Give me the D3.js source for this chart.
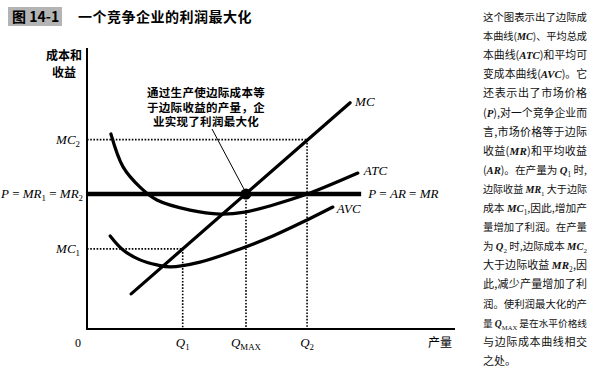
<!DOCTYPE html>
<html>
<head>
<meta charset="utf-8">
<script src="https://cdn.jsdelivr.net/npm/d3@7"></script>
<style>
  body { margin: 0; background: #fff; }
  svg { display: block; }
</style>
</head>
<body>
<div id="chart"></div>
<script>
// quantity (x) and price (y) are in chart units, 0..100
var mcPoints = [[12, 12.5], [71.5, 80.5]];
var atcPoints = [[6.5, 69.4], [9.8, 57.7], [14.4, 50.5], [19.0, 45.9], [28.0, 42.3],
  [36.1, 40.9], [42.9, 41.6], [49.7, 43.8], [59.8, 48.0], [73.6, 55.5]];
var avcPoints = [[6.3, 33.1], [9.8, 28.1], [14.4, 24.6], [19.0, 22.8], [22.6, 22.1],
  [30.7, 23.8], [41.6, 28.5], [50.5, 33.1], [59.8, 38.8], [66.8, 43.4]];
var price = 48;
var priceLineEnd = 74.5;
var quantities = [26, 43.2, 59.8];           // Q1, QMAX, Q2
var qLabels = ["*Q*_1_", "*Q*_MAX_", "*Q*_2_"];
var mcLevels = [28.5, 67.4];                  // MC1 at Q1, MC2 at Q2
var mcLabels = ["*MC*_1_", "*MC*_2_"];

var noteLines = ["通过生产使边际成本等", "于边际收益的产量，企", "业实现了利润最大化"];
var sideText = [
  "这个图表示出了边际成",
  "本曲线(*MC*)、平均总成",
  "本曲线(*ATC*)和平均可",
  "变成本曲线(*AVC*)。它",
  "还表示出了市场价格",
  "(*P*),对一个竞争企业而",
  "言,市场价格等于边际",
  "收益(*MR*)和平均收益",
  "(*AR*)。在产量为 *Q*_1_ 时,",
  "边际收益 *MR*_1_ 大于边际",
  "成本 *MC*_1_,因此,增加产",
  "量增加了利润。在产量",
  "为 *Q*_2_ 时,边际成本 *MC*_2_",
  "大于边际收益 *MR*_2_,因",
  "此,减少产量增加了利",
  "润。使利润最大化的产",
  "量 *Q*_MAX_ 是在水平价格线",
  "与边际成本曲线相交",
  "之处。"
];

var width = 600, height = 370;
var cjk = "'Noto Sans CJK SC', sans-serif";
var serif = "'Liberation Serif', 'DejaVu Serif', serif";

var svg = d3.select("#chart").append("svg")
  .attr("width", width).attr("height", height);

var x = d3.scaleLinear().domain([0, 100]).range([87, 455]);
var y = d3.scaleLinear().domain([0, 100]).range([329, 48]);

// writes "*italic*" and "_sub_" markup as tspans
function rich(sel, str, size, bold) {
  var parts = str.split(/(\*[^*]+\*|_[^_]+_)/).filter(function(s) { return s.length; });
  parts.forEach(function(p) {
    if (p[0] == "*") {
      sel.append("tspan").text(p.slice(1, -1))
        .style("font-family", serif).style("font-style", "italic")
        .style("font-weight", bold ? "bold" : null);
    } else if (p[0] == "_") {
      sel.append("tspan").text(p.slice(1, -1))
        .style("font-family", serif)
        .style("font-size", (size * 0.68) + "px")
        .attr("baseline-shift", -size * 0.25);
    } else {
      sel.append("tspan").text(p);
    }
  });
}

// title
svg.append("rect").attr("x", 8).attr("y", 7).attr("width", 54).attr("height", 19)
  .attr("fill", "#b4b4b4");
svg.append("text").attr("x", 12).attr("y", 22)
  .style("font-family", cjk).style("font-weight", "bold").style("font-size", "14px")
  .text("图 14-1");
svg.append("text").attr("x", 78).attr("y", 22)
  .style("font-family", cjk).style("font-weight", "bold").style("font-size", "14px")
  .attr("letter-spacing", 0.5)
  .text("一个竞争企业的利润最大化");

// axis title
svg.append("text").attr("x", 64).attr("y", 60).attr("text-anchor", "middle")
  .style("font-family", cjk).style("font-weight", "bold").style("font-size", "12px")
  .text("成本和");
svg.append("text").attr("x", 64).attr("y", 77).attr("text-anchor", "middle")
  .style("font-family", cjk).style("font-weight", "bold").style("font-size", "12px")
  .text("收益");

// dotted guides
var dotted = svg.append("g").attr("stroke", "#000").attr("stroke-width", 1.6)
  .attr("stroke-dasharray", "1.6,1.6");
[0, 1].forEach(function(i) {
  var qi = i == 0 ? 0 : 2;
  dotted.append("line")
    .attr("x1", x(0)).attr("x2", x(quantities[qi]))
    .attr("y1", y(mcLevels[i])).attr("y2", y(mcLevels[i]));
  dotted.append("line")
    .attr("x1", x(quantities[qi])).attr("x2", x(quantities[qi]))
    .attr("y1", y(mcLevels[i])).attr("y2", y(0));
});
dotted.append("line")
  .attr("x1", x(quantities[1])).attr("x2", x(quantities[1]))
  .attr("y1", y(price)).attr("y2", y(0));

// axes
svg.append("line").attr("x1", x(0)).attr("x2", x(0)).attr("y1", y(100)).attr("y2", y(0))
  .attr("stroke", "#000").attr("stroke-width", 2);
svg.append("line").attr("x1", x(0) - 1).attr("x2", x(100)).attr("y1", y(0)).attr("y2", y(0))
  .attr("stroke", "#000").attr("stroke-width", 2);

// curves
var line = d3.line().x(function(d) { return x(d[0]); }).y(function(d) { return y(d[1]); })
  .curve(d3.curveCatmullRom.alpha(0.5));
[atcPoints, avcPoints, mcPoints].forEach(function(pts) {
  svg.append("path").attr("d", line(pts)).attr("fill", "none")
    .attr("stroke", "#000").attr("stroke-width", 3.2).attr("stroke-linecap", "round");
});

// price line
svg.append("line").attr("x1", x(0)).attr("x2", x(priceLineEnd))
  .attr("y1", y(price)).attr("y2", y(price))
  .attr("stroke", "#000").attr("stroke-width", 4.5);

// optimum dot and pointer
svg.append("circle").attr("cx", x(quantities[1])).attr("cy", y(price)).attr("r", 5.5)
  .attr("fill", "#000");
svg.append("line").attr("x1", 212).attr("y1", 129)
  .attr("x2", x(quantities[1]) - 2).attr("y2", y(price) - 5)
  .attr("stroke", "#000").attr("stroke-width", 1);

// annotation
noteLines.forEach(function(t, i) {
  svg.append("text").attr("x", 206).attr("y", 97 + i * 14.5).attr("text-anchor", "middle")
    .style("font-family", cjk).style("font-weight", "bold").style("font-size", "11.5px")
    .attr("letter-spacing", 0.3)
    .text(t);
});

// y labels
mcLabels.forEach(function(t, i) {
  var tx = svg.append("text").attr("x", 80).attr("y", y(mcLevels[i]) + 4)
    .attr("text-anchor", "end").style("font-size", "13px").style("font-family", serif);
  rich(tx, t, 13);
});
var pl = svg.append("text").attr("x", 83).attr("y", y(price) + 4)
  .attr("text-anchor", "end").style("font-size", "13px").style("font-family", serif);
rich(pl, "*P* = *MR*_1_ = *MR*_2_", 13);

// x labels
qLabels.forEach(function(t, i) {
  var tx = svg.append("text").attr("x", x(quantities[i])).attr("y", 347)
    .attr("text-anchor", "middle").style("font-size", "13px").style("font-family", serif);
  rich(tx, t, 13);
});
svg.append("text").attr("x", 78).attr("y", 347).attr("text-anchor", "middle")
  .style("font-size", "12px").style("font-family", serif).text("0");
svg.append("text").attr("x", 440).attr("y", 347).attr("text-anchor", "middle")
  .style("font-size", "12px").style("font-family", cjk).text("产量");

// curve labels
var tags = [["*MC*", mcPoints[1], 5, 3], ["*ATC*", atcPoints[atcPoints.length - 1], 6, 2],
  ["*AVC*", avcPoints[avcPoints.length - 1], 4, 6], ["*P* = *AR* = *MR*", [priceLineEnd, price], 7, 4]];
tags.forEach(function(t) {
  var tx = svg.append("text").attr("x", x(t[1][0]) + t[2]).attr("y", y(t[1][1]) + t[3])
    .style("font-size", "13px").style("font-family", serif);
  rich(tx, t[0], 13);
});

// side text, justified to a 104px column
var colW = 104;
sideText.forEach(function(t, i) {
  var tx = svg.append("text").attr("x", 483).attr("y", 21 + i * 19.1)
    .style("font-size", "11px").style("font-family", cjk).attr("fill", "#111");
  rich(tx, t, 11, true);
  var w = tx.node().getComputedTextLength();
  if (w > colW) {
    // too wide: shrink every piece a little
    var k = colW / w;
    tx.style("font-size", (11 * k) + "px");
    tx.selectAll("tspan").each(function() {
      var fs = this.style.fontSize;
      if (fs) d3.select(this).style("font-size", (parseFloat(fs) * k) + "px");
    });
  }
  if (i < sideText.length - 1) tx.attr("textLength", colW).attr("lengthAdjust", "spacing");
});
</script>
</body>
</html>
